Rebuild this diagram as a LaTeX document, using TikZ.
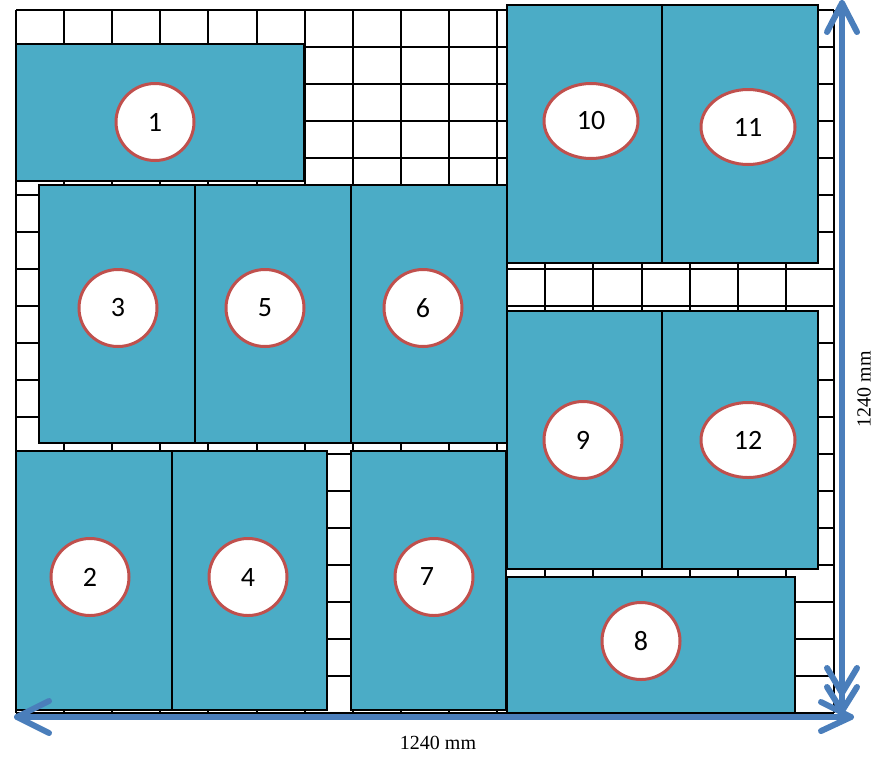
\documentclass[tikz,border=0pt]{standalone}
\usepackage{fontspec}
\setmainfont{Liberation Serif}
\newfontfamily\numfont{Carlito}
\usetikzlibrary{shapes.geometric}
\definecolor{panelteal}{HTML}{4BACC6}
\definecolor{tagred}{HTML}{C0504D}
\definecolor{arrowblue}{HTML}{4A7EBB}
\begin{document}
\begin{tikzpicture}[x=1pt,y=-1pt,
  gridline/.style={line width=2pt,black},
  panel/.style={fill=panelteal,draw=black,line width=1.3pt},
  tag/.style={ellipse,fill=white,draw=tagred,line width=3pt,inner sep=0pt,
    minimum width=78pt,minimum height=77pt,font=\numfont\fontsize{28}{30}\selectfont},
  widetag/.style={tag,minimum width=94pt,minimum height=75pt},
  dimarrow/.style={arrowblue,line width=6pt,line cap=round,line join=round},
  dimlabel/.style={font=\fontsize{20}{24}\selectfont,inner sep=0pt}]
\useasboundingbox (0,0) rectangle (882,756);
% grid
\foreach \i in {0,...,17} \draw[gridline] ({16+\i*818/17},10) -- ({16+\i*818/17},713);
\foreach \j in {0,...,19} \draw[gridline] (16,{10+\j*37}) -- (834,{10+\j*37});
% panels
\draw[panel] (16,44) rectangle (304,181);
\draw[panel] (39,185) rectangle (195,443);
\draw[panel] (195,185) rectangle (351,443);
\draw[panel] (351,185) rectangle (507,443);
\draw[panel] (507,5) rectangle (662,263);
\draw[panel] (662,5) rectangle (818,263);
\draw[panel] (507,311) rectangle (662,569);
\draw[panel] (662,311) rectangle (818,569);
\draw[panel] (507,577) rectangle (795,713);
\draw[panel] (16,451) rectangle (172,710);
\draw[panel] (172,451) rectangle (327,710);
\draw[panel] (351,451) rectangle (506,710);
% tags
\node[tag] (t1) at (155,122) {1};
\node[widetag] (t10) at (591,121) {10};
\node[widetag] (t11) at (748,127) {11};
\node[tag] (t3) at (118,308) {3};
\node[tag] (t5) at (265,308) {5};
\node[tag] (t6) at (423,308) {6};
\node[tag] (t9) at (583,440) {9};
\node[widetag] (t12) at (748,440) {12};
\node[tag] (t2) at (90,577) {2};
\node[tag] (t4) at (248,577) {4};
\node[tag] (t7) at (434,577) {7\kern14pt};
\node[tag] (t8) at (641,641) {8};
% dimension arrows
\coordinate (hl) at (17,717);
\coordinate (hr) at (851,717);
\draw[dimarrow] (hl) -- (hr);
\draw[dimarrow] (49,701) -- (hl) -- (49,733);
\draw[dimarrow] (821,702) -- (hr) -- (821,731);
\coordinate (vt) at (842,3);
\coordinate (vm) at (842,693);
\coordinate (vb) at (842,711);
\draw[dimarrow] (vt) -- (vb);
\draw[dimarrow] (827,32) -- (vt) -- (857,32);
\draw[dimarrow] (827,668) -- (vm) -- (857,668);
\draw[dimarrow] (827,687) -- (vb) -- (857,687);
% labels
\node[dimlabel] (wlabel) at (438,743) {1240 mm};
\node[dimlabel,rotate=90] (hlabel) at (864,389) {1240 mm};
\end{tikzpicture}
\end{document}
